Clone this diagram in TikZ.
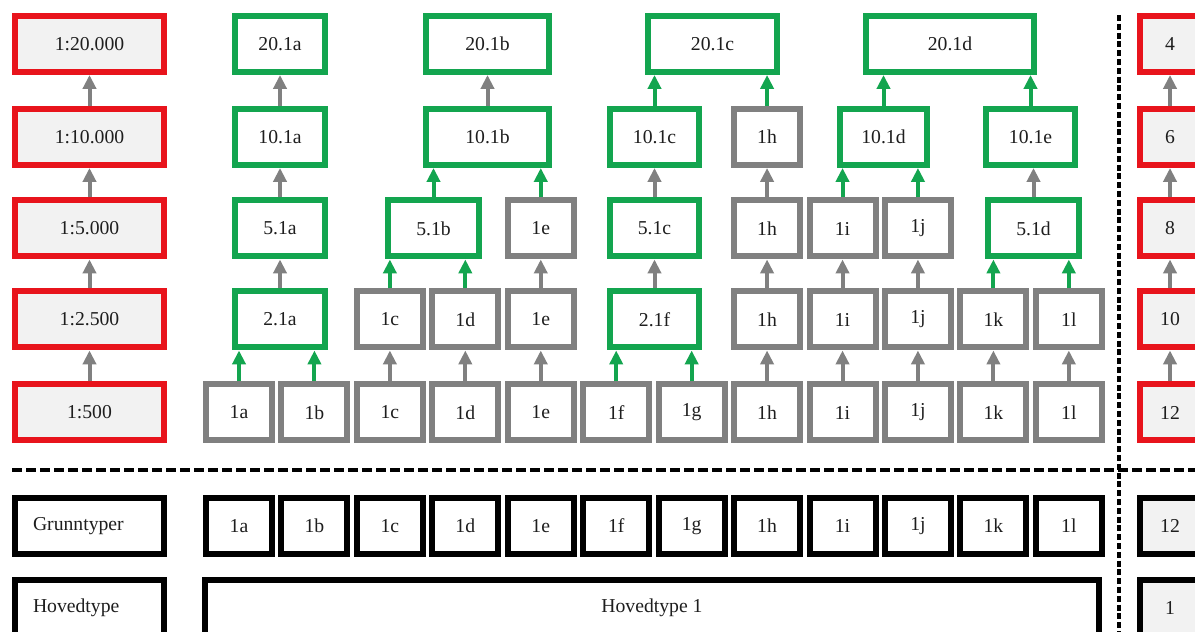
\documentclass[tikz,border=0pt]{standalone}
\usepackage{fontspec}
\setmainfont{Liberation Serif}
\usetikzlibrary{arrows.meta,positioning}
\definecolor{genRed}{HTML}{E8141C}
\definecolor{genGreen}{HTML}{13A54F}
\definecolor{genGrey}{HTML}{808080}
\definecolor{genFill}{HTML}{F2F2F2}
\definecolor{genInk}{HTML}{1E1E1E}
\tikzset{
  gen diagram/.style={font=\fontsize{14}{17}\selectfont, text=genInk},
  gen box/.style={draw, line width=0.15cm, fill=white, minimum height=1.4cm,
    minimum width=1.65cm, inner sep=0pt},
  gen scale box/.style={gen box, draw=genRed, fill=genFill},
  gen merge box/.style={gen box, draw=genGreen},
  gen leaf box/.style={gen box, draw=genGrey},
  gen type box/.style={gen box, draw=black},
  gen label box/.style={gen type box, minimum width=3.725cm, text width=2.825cm,
    inner xsep=0.45cm, align=left},
  gen arrow/.style={-{Triangle[length=0.35cm,width=0.33cm]}, draw=genGrey,
    line width=0.1cm},
  gen merge arrow/.style={gen arrow, draw=genGreen},
  gen divider/.style={draw=black, line width=0.1cm, dash pattern=on 0.25cm off 0.1cm}
}
\begin{document}
\begin{tikzpicture}[gen diagram]
\useasboundingbox (0,0) rectangle (29.875,15.8);
% scale columns
\foreach \y/\scale/\name in {14.7/1:20.000/s20000,12.375/1:10.000/s10000,
    10.0875/1:5.000/s5000,7.8125/1:2.500/s2500,5.4875/1:500/s500}
  \node[gen scale box, minimum width=3.725cm] (\name) at (2.2375,\y) {\scale};
\foreach \y/\val in {14.7/4,12.375/6,10.0875/8,7.8125/10,5.4875/12}
  \node[gen scale box, minimum width=1.5cm] (k\val) at (29.25,\y) {\val};
% base types
\foreach \t [count=\i from 0] in {a,b,c,d,e,f,g,h,i,j,k,l}{
  \node[gen leaf box] (r1\t) at ({5.975+1.886*\i},5.4875) {1\t};
  \node[gen type box] (g\t) at ({5.975+1.886*\i},2.65) {1\t};
}
\foreach \t in {c,d,e,h,i,j,k,l}
  \node[gen leaf box] (r2\t) at (r1\t |- s2500) {1\t};
\foreach \t in {e,h,i,j}
  \node[gen leaf box] (r3\t) at (r1\t |- s5000) {1\t};
\node[gen leaf box] (r4h) at (r1h |- s10000) {1h};
% merged types
\foreach \x/\y/\w/\name/\label in {7/7.8125/2.25/n2a/2.1a,7/10.0875/2.25/n5a/5.1a,
    7/12.375/2.25/n10a/10.1a,7/14.7/2.25/n20a/20.1a,
    10.8375/10.0875/2.275/n5b/5.1b,12.1875/12.375/3.075/n10b/10.1b,
    12.1875/14.7/3.075/n20b/20.1b,16.3625/7.8125/2.225/n2f/2.1f,
    16.3625/10.0875/2.225/n5c/5.1c,16.3625/12.375/2.225/n10c/10.1c,
    17.8125/14.7/3.225/n20c/20.1c,22.0875/12.375/2.175/n10d/10.1d,
    23.75/14.7/4.2/n20d/20.1d,25.8375/10.0875/2.275/n5d/5.1d,
    25.7625/12.375/2.225/n10e/10.1e}
  \node[gen merge box, minimum width=\w cm] (\name) at (\x,\y) {\label};
% arrows
\foreach \a/\b in {s500/s2500,s2500/s5000,s5000/s10000,s10000/s20000,
    k12/k10,k10/k8,k8/k6,k6/k4,n2a/n5a,n5a/n10a,n10a/n20a,r1c/r2c,r1d/r2d,
    r1e/r2e,r2e/r3e,n10b/n20b,n2f/n5c,n5c/n10c,r1h/r2h,r2h/r3h,r3h/r4h,
    r1i/r2i,r2i/r3i,r1j/r2j,r2j/r3j,r1k/r2k,r1l/r2l,n5d/n10e}
  \draw[gen arrow] (\a.north) -- (\a.north |- \b.south);
\foreach \a/\b in {r1a/n2a,r1b/n2a,r2c/n5b,r2d/n5b,n5b/n10b,r3e/n10b,
    r1f/n2f,r1g/n2f,n10c/n20c,r4h/n20c,r3i/n10d,r3j/n10d,n10d/n20d,
    n10e/n20d,r2k/n5d,r2l/n5d}
  \draw[gen merge arrow] (\a.north) -- (\a.north |- \b.south);
% dividers
\draw[gen divider] (0.3,4.05) -- (29.875,4.05);
\draw[gen divider, line width=0.09cm, dash pattern=on 0.15cm off 0.07cm]
  (27.975,15.425) -- (27.975,0);
% type rows
\node[gen label box] (grunn) at (2.2375,2.65) {Grunntyper};
\node[gen label box] (hoved) at (2.2375,0.6) {Hovedtype};
\node[gen type box, minimum width=22.35cm] (hoved1) at (16.3,0.6) {Hovedtype 1};
\node[gen type box, fill=genFill, minimum width=1.5cm] (g12) at (29.25,2.65) {12};
\node[gen type box, fill=genFill, minimum width=1.5cm] (h1) at (29.25,0.6) {1};
\end{tikzpicture}
\end{document}
